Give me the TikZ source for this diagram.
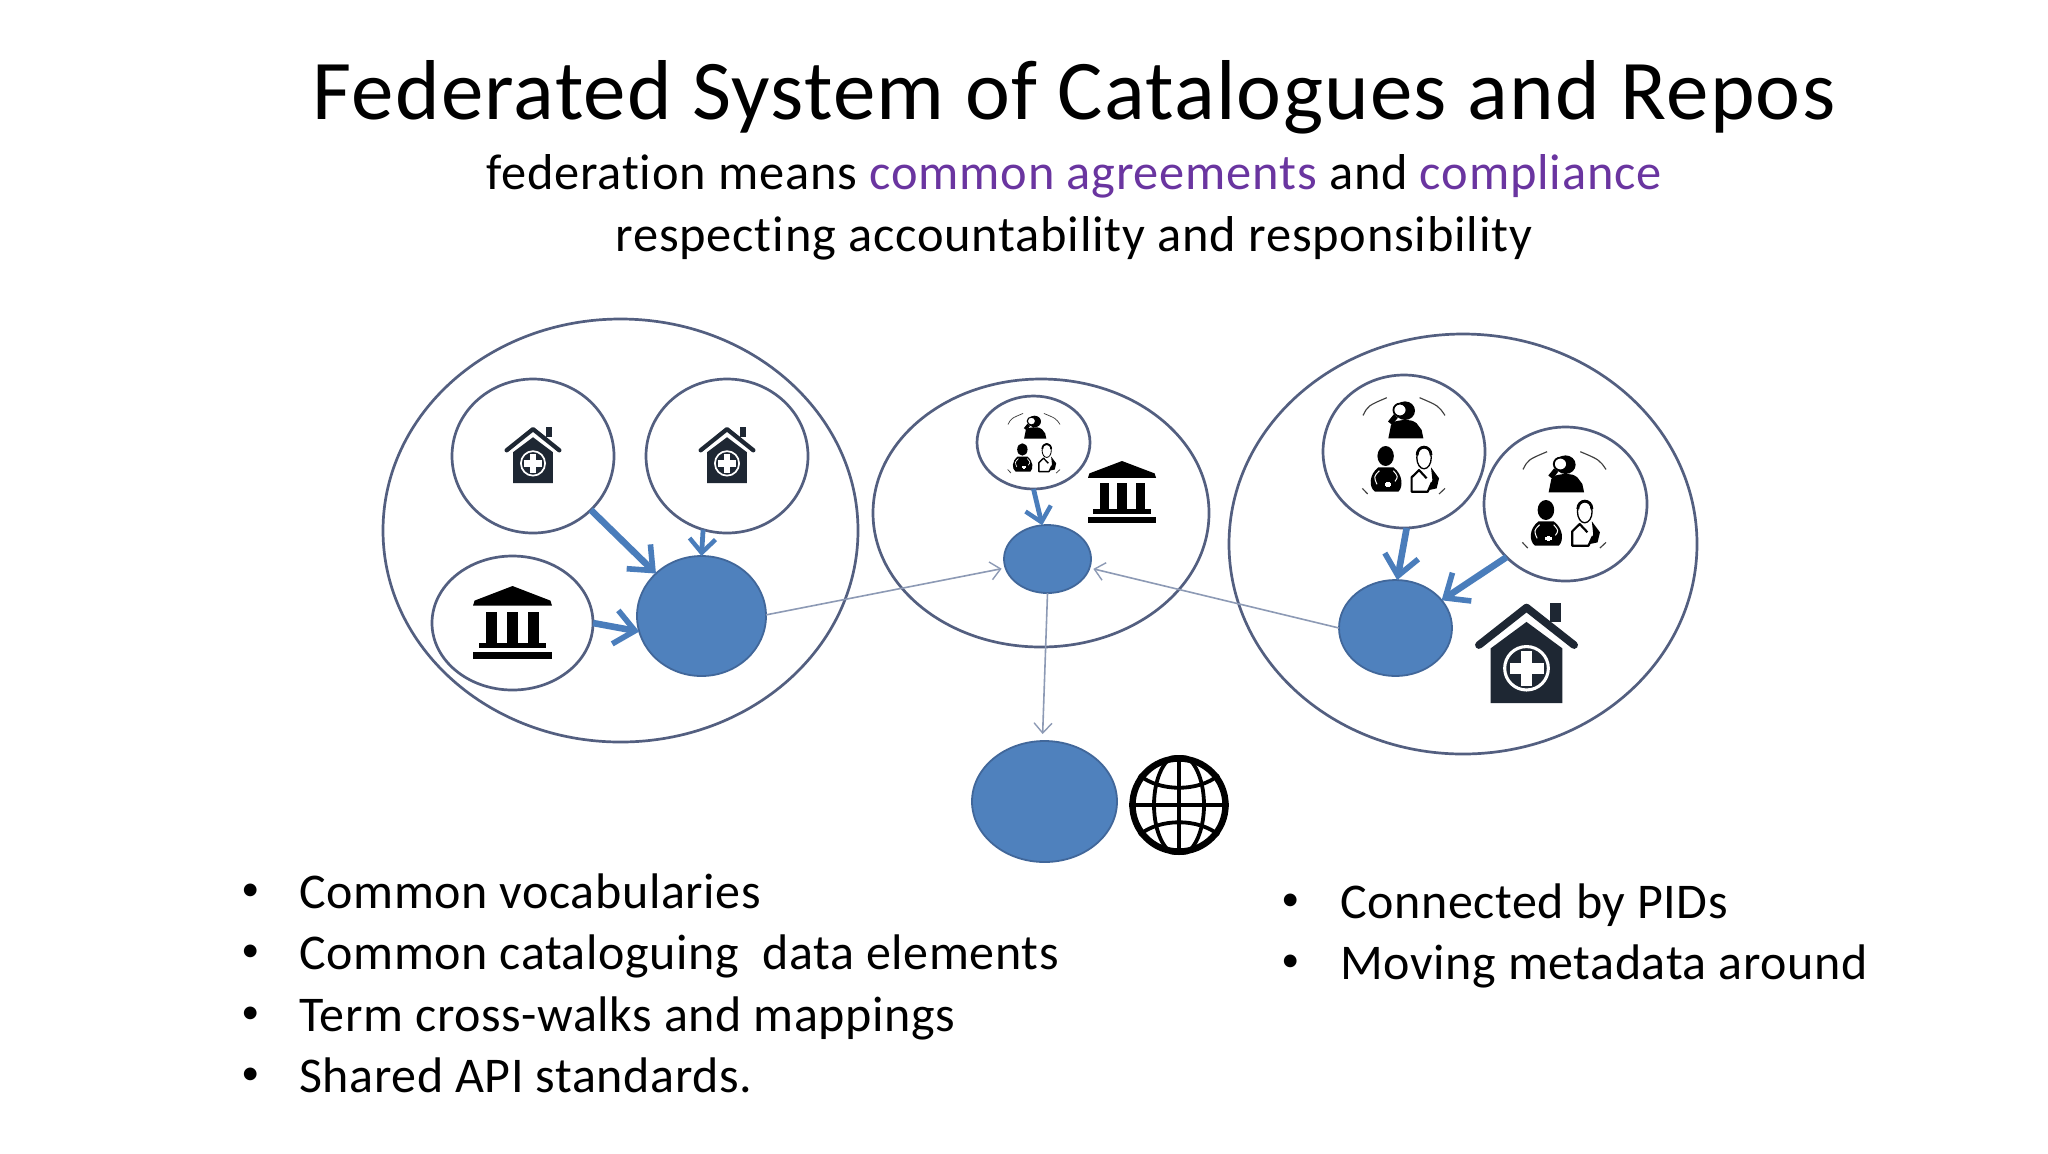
\documentclass[tikz,border=0pt]{standalone}
\usepackage{fontspec}
\setmainfont{Carlito}[Ligatures=NoCommon]
\usetikzlibrary{shapes.geometric,arrows.meta}
\definecolor{slate}{HTML}{535F80}
\definecolor{bluefill}{HTML}{4F81BD}
\definecolor{blueedge}{HTML}{41679A}
\definecolor{thinline}{HTML}{8D9AB5}
\definecolor{arrowblue}{HTML}{4A7DBB}
\definecolor{purpletext}{HTML}{6A35A0}
\definecolor{housedark}{HTML}{1E2733}
\newcommand{\houseicon}[4]{% x center, y top, width, height (reference px)
 \begin{scope}[shift={(#1,#2)},x={#3*0.5pt},y={-#4*0.5pt}]
  \fill[housedark] (-0.348,0.459) -- (0,0.197) -- (0.348,0.459) -- (0.348,1) -- (-0.348,1) -- cycle;
  \fill[housedark] (0.226,0.01) rectangle (0.339,0.2);
  \draw[housedark,line width={#3*0.5pt*0.075},line cap=round,line join=round] (-0.462,0.426) -- (0,0.055) -- (0.462,0.426);
  \draw[white,line width={#3*0.5pt*0.03}] (0,0.656) ellipse (0.212 and 0.215);
  \fill[white] (-0.165,0.6) rectangle (0.165,0.712);
  \fill[white] (-0.056,0.485) rectangle (0.056,0.827);
 \end{scope}}
\newcommand{\museumicon}[4]{% left, top, width, height
 \begin{scope}[shift={(#1,#2)},x={#3*0.5pt},y={-#4*0.5pt}]
  \fill[black] (0.5,0) -- (0.02,0.2) -- (0,0.27) -- (1,0.27) -- (0.98,0.2) -- cycle;
  \fill[black] (0.17,0.35) rectangle (0.31,0.78);
  \fill[black] (0.43,0.35) rectangle (0.57,0.78);
  \fill[black] (0.70,0.35) rectangle (0.84,0.78);
  \fill[black] (0.07,0.78) rectangle (0.93,0.855);
  \fill[black] (0,0.9) rectangle (1,1);
 \end{scope}}
\newcommand{\peopleicon}[4]{% left, top, width, height
 \begin{scope}[shift={(#1,#2)},x={#3*0.5pt},y={-#4*0.5pt}]
  \draw[black!75,line width={#3*0.5pt*0.014}] (0,0.19) .. controls (0.06,0.09) .. (0.29,0.007);
  \draw[black!75,line width={#3*0.5pt*0.014}] (0.69,0.007) .. controls (0.92,0.09) .. (1,0.19);
  \draw[black!75,line width={#3*0.5pt*0.014}] (-0.008,0.942) -- (0.057,1);
  \draw[black!75,line width={#3*0.5pt*0.014}] (1,0.942) -- (0.927,1);
  % investigator
  \fill[black] (0.512,0.141) ellipse (0.122 and 0.096);
  \fill[black] (0.309,0.426) -- (0.341,0.289) .. controls (0.38,0.25) .. (0.492,0.237) .. controls (0.6,0.24) .. (0.654,0.271) -- (0.715,0.34) -- (0.736,0.426) -- cycle;
  \draw[black,line width={#3*0.5pt*0.065}] (0.33,0.27) -- (0.40,0.196);
  \draw[black,fill=white,line width={#3*0.5pt*0.022}] (0.451,0.134) ellipse (0.08 and 0.066);
  % first doctor
  \fill[black] (0.276,0.608) ellipse (0.10 and 0.103);
  \fill[black] (0.146,0.976) .. controls (0.07,0.93) and (0.07,0.8) .. (0.187,0.725) -- (0.37,0.725) .. controls (0.49,0.8) and (0.49,0.93) .. (0.431,0.976) -- cycle;
  \draw[white,line width={#3*0.5pt*0.012}] (0.2,0.76) .. controls (0.13,0.82) .. (0.17,0.9) (0.37,0.76) .. controls (0.43,0.82) .. (0.39,0.87);
  \fill[white] (0.285,0.88) rectangle (0.325,0.93);
  \fill[white] (0.265,0.89) rectangle (0.345,0.92);
  % second doctor
  \fill[black] (0.829,0.725) -- (0.927,0.838) -- (0.898,0.942) -- (0.805,0.959) -- (0.846,0.856) -- cycle;
  \draw[black,line width={#3*0.5pt*0.026},line join=round] (0.84,0.88) -- (0.789,0.976) -- (0.593,0.976) -- (0.593,0.828) -- (0.683,0.753) -- (0.776,0.838);
  \draw[black,fill=white,line width={#3*0.5pt*0.016}] (0.744,0.625) ellipse (0.088 and 0.115);
  \draw[black,line width={#3*0.5pt*0.034}] (0.66,0.6) .. controls (0.66,0.49) and (0.83,0.49) .. (0.83,0.6);
 \end{scope}}
\tikzset{
 blob/.style 2 args={ellipse,draw=blueedge,fill=bluefill,line width=0.9pt,inner sep=0pt,outer sep=0pt,minimum width={#1*0.5pt},minimum height={#2*0.5pt}},
 ring/.style 2 args={ellipse,draw=slate,line width=1.35pt,inner sep=0pt,outer sep=0pt,minimum width={#1*0.5pt},minimum height={#2*0.5pt}},
 feed/.style={draw=arrowblue,line width=3.3pt,-{Straight Barb[length=10pt,width=17pt,line width=2.8pt]}},
 feedsmall/.style={draw=arrowblue,line width=2.4pt,-{Straight Barb[length=7pt,width=13pt,line width=2.2pt]}},
 link/.style={draw=thinline,line width=0.8pt,-{Straight Barb[length=5pt,width=9pt,line width=0.7pt]}},
 heading/.style={inner sep=0pt,anchor=base,font=\fontsize{42.5}{42.5}\selectfont\addfontfeature{LetterSpace=1.5}},
 subhead/.style={inner sep=0pt,anchor=base,font=\fontsize{25.2}{25.2}\selectfont\addfontfeature{LetterSpace=1.6}},
 item/.style={inner sep=0pt,anchor=base west,font=\fontsize{25}{25}\selectfont\addfontfeature{LetterSpace=1.2}},
 dotmark/.style={inner sep=0pt,anchor=base west,font=\fontsize{18}{18}\selectfont},
}
\begin{document}
\begin{tikzpicture}[x=0.5pt,y=-0.5pt]
\useasboundingbox[fill=white] (0,0) rectangle (2048,1153);

\node[heading] (title) at (1074,119) {Federated System of Catalogues and Repos};
\node[subhead] (sub1) at (1074,189) {federation means \textcolor{purpletext}{common agreements} and \textcolor{purpletext}{compliance}};
\node[subhead] (sub2) at (1074,251) {respecting accountability and responsibility};

% big rings
\node[ring={475}{423}] (L) at (620.5,530.5) {};
\node[ring={336}{268}] (M) at (1041,513) {};
\node[ring={468}{420}] (R) at (1463,544) {};

% left group
\node[ring={162}{154}] (lh1) at (533,456) {};
\node[ring={162}{154}] (lh2) at (727,456) {};
\node[ring={161}{134}] (lm) at (512.5,623) {};
\node[blob={129}{120}] (lb) at (701.5,616) {};
\houseicon{533}{426}{57}{57}
\houseicon{727}{426}{57}{57}
\museumicon{473}{586}{79}{73}

% middle group
\node[ring={113}{93}] (mp) at (1033.5,442.5) {};
\node[blob={87}{68}] (mb) at (1047.5,559) {};
\peopleicon{1008}{413}{52}{60}
\museumicon{1088}{461}{68}{62}

% right group
\node[ring={162}{153}] (ra) at (1404,451.5) {};
\node[ring={163}{154}] (rc) at (1565.5,504) {};
\node[blob={113}{96}] (rb) at (1395.5,628) {};
\peopleicon{1363}{397}{82}{97}
\peopleicon{1523}{451}{83}{97}
\houseicon{1526.5}{602}{103}{101}

% bottom
\node[blob={145}{121}] (bb) at (1044.5,801.5) {};
\begin{scope}
 \clip (1179,805) circle (50);
 \draw[black,line width=1.9pt] (1179,755) -- (1179,855) (1129,805) -- (1229,805);
 \draw[black,line width=1.9pt] (1179,805) ellipse (25 and 50);
 \draw[black,line width=1.9pt] (1139,775) .. controls (1160,792) and (1198,792) .. (1219,775);
 \draw[black,line width=1.9pt] (1139,835) .. controls (1160,818) and (1198,818) .. (1219,835);
\end{scope}
\draw[black,line width=3.2pt] (1179,805) circle (46.5);

% connectors
\draw[feed] (lh1.-43) -- (lb.137);
\draw[feedsmall] (lh2.-108) -- (lb.90);
\draw[feed] (lm.0) -- (lb.194);
\draw[feedsmall] (mp.-90) -- (mb.99);
\draw[feed] (ra.-88) -- (rb.88);
\draw[feed] (rc.-138) -- (rb.31);
\draw[link,shorten >=2pt] (lb.1) -- (mb.192);
\draw[link,shorten >=2pt] (rb.180) -- (mb.-12);
\draw[link,shorten >=3.5pt] (mb.-90) -- (bb.92);

% bullets
\node[dotmark] (b1) at (241,900) {•};
\node[item] (t1) at (299,908) {Common vocabularies};
\node[dotmark] (b2) at (241,961) {•};
\node[item] (t2) at (299,969) {Common cataloguing\ \ data elements};
\node[dotmark] (b3) at (241,1023) {•};
\node[item] (t3) at (299,1031) {Term cross-walks and mappings};
\node[dotmark] (b4) at (241,1084) {•};
\node[item] (t4) at (299,1092) {Shared API standards.};
\node[dotmark] (b5) at (1281,910) {•};
\node[item] (t5) at (1340,918) {Connected by PIDs};
\node[dotmark] (b6) at (1281,971) {•};
\node[item] (t6) at (1340,979) {Moving metadata around};
\end{tikzpicture}
\end{document}
